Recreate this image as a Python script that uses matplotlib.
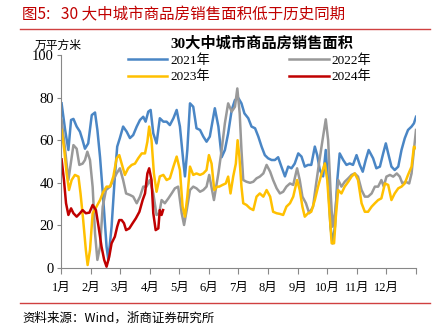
import matplotlib
matplotlib.use("Agg")
import matplotlib.pyplot as plt
from matplotlib.lines import Line2D

# ---- data (x in months since Jan 1, value in 万平方米) ----
x2021 = [0.02,0.14,0.25,0.34,0.42,0.53,0.64,0.73,0.81,0.92,1.04,1.15,1.23,1.32,1.43,1.54,1.6,1.71,1.82,1.9,
         1.99,2.1,2.22,2.33,2.44,2.56,2.67,2.78,2.86,2.95,3.03,3.12,3.23,3.34,3.46,3.57,3.68,3.8,3.91,4.02,
         4.13,4.19,4.27,4.36,4.47,4.58,4.7,4.81,4.92,5.03,5.2,5.32,5.43,5.54,5.65,5.77,5.88,6.0,6.1,6.2,
         6.33,6.44,6.56,6.67,6.78,6.89,7.0,7.12,7.23,7.34,7.45,7.57,7.68,7.79,7.9,8.02,8.13,8.24,8.35,8.46,
         8.58,8.66,8.75,8.86,8.95,9.03,9.11,9.18,9.26,9.34,9.42,9.54,9.65,9.76,9.87,9.99,10.1,10.2,10.3,10.4,
         10.55,10.66,10.78,10.89,10.98,11.06,11.17,11.28,11.4,11.51,11.62,11.73,11.85,11.93,12.0]
y2021 = [77.3,64.8,55.4,69.5,70,66.4,64,60,56,58.5,71.8,73,64.8,52,32,10,3.8,19.4,43,57,
         61,66.4,64,61,62.4,66.4,69.5,71,68.7,73.4,74.2,63.2,58.5,70.3,68.7,68.7,67.1,70.3,74.2,66.4,
         50.7,43,55.4,77.3,75.7,65.6,64.8,61.7,59.3,61.7,75,66.4,52,55.4,63.2,74.2,78.9,79.7,77.3,72.6,
         70.3,66.4,65.6,61.7,57,53,51.5,50.7,50.7,52,47.6,43,47.6,46.8,49,53.8,52.3,47.6,48.4,48.4,
         57,53,46,43,55.4,39.7,19.4,11.6,19.4,41.3,53.8,50.7,48.4,49.1,48.4,53,48.4,45.2,50.7,55.4,
         51.5,46.8,47.6,53.8,58.5,53.8,47.6,46,47.6,55.4,60.9,64.8,66.4,67.9,71]

x2022 = [0.02,0.14,0.25,0.33,0.42,0.53,0.62,0.73,0.81,0.89,0.98,1.07,1.15,1.23,1.32,1.41,1.52,1.66,1.77,1.88,
         1.99,2.1,2.2,2.33,2.44,2.56,2.67,2.78,2.89,3.0,3.12,3.23,3.32,3.4,3.51,3.63,3.74,3.85,3.96,4.08,
         4.16,4.25,4.36,4.47,4.58,4.7,4.81,4.92,5.01,5.17,5.32,5.43,5.54,5.65,5.77,5.88,5.96,6.04,6.1,6.16,
         6.27,6.39,6.5,6.61,6.72,6.84,6.95,7.07,7.17,7.29,7.4,7.51,7.62,7.74,7.85,7.98,8.07,8.16,8.28,8.39,
         8.52,8.61,8.72,8.84,8.95,9.03,9.11,9.18,9.26,9.37,9.48,9.59,9.71,9.82,9.93,10.04,10.16,10.27,10.38,10.5,
         10.61,10.72,10.83,10.91,11.0,11.12,11.23,11.35,11.45,11.54,11.65,11.77,11.85,11.93,12.0]
y2022 = [69.5,55.4,41.3,49,57.7,56,48.4,49,50.7,54.6,50.7,38,16.3,3.8,10,28.8,36.6,38.2,41.3,44.4,
         46.8,41.3,35,34.3,33.5,30.4,33.5,38.2,38.2,41.3,35,24.9,25.7,31.9,30.4,32.7,35,37.4,38.2,25.7,
         20.2,27.2,36.6,38.2,37.4,35.8,36.6,38.2,43.7,31.9,44.4,55.4,68,77.3,73.4,75.7,84.3,72.6,55.4,41.3,
         40.5,40,40.5,42.1,42.9,44.4,48.4,45.2,41.3,37.4,35,35.8,38.2,39.7,39,46.8,41.3,33.5,30.4,25.7,
         28.8,38.2,49,60,69.8,60,36.6,19.4,25.7,41.3,38.2,40.5,42.1,43.7,44.4,42.9,36.6,33.5,33.5,35,
         38.2,38.2,41.3,38.2,42.9,43.7,42.9,44.4,42.9,39.7,40.5,39.7,44.4,55.4,64.8]

x2023 = [0.02,0.11,0.19,0.27,0.36,0.47,0.59,0.66,0.75,0.84,0.9,0.98,1.07,1.2,1.32,1.43,1.54,1.66,1.77,1.88,
         1.97,2.05,2.16,2.27,2.39,2.5,2.61,2.73,2.84,2.92,2.98,3.06,3.14,3.23,3.34,3.46,3.57,3.68,3.8,3.91,
         4.02,4.11,4.19,4.27,4.36,4.47,4.58,4.7,4.81,4.92,5.0,5.09,5.18,5.28,5.35,5.46,5.57,5.65,5.73,5.82,
         5.91,5.97,6.03,6.1,6.16,6.27,6.39,6.5,6.61,6.72,6.84,6.95,7.07,7.17,7.29,7.4,7.51,7.62,7.74,7.85,
         7.98,8.07,8.16,8.24,8.35,8.46,8.58,8.69,8.81,8.92,9.0,9.07,9.15,9.23,9.29,9.37,9.48,9.59,9.71,9.82,
         9.93,10.04,10.16,10.27,10.38,10.5,10.61,10.72,10.83,10.95,11.06,11.17,11.28,11.4,11.51,11.62,11.73,11.85,11.93,12.0]
y2023 = [64.8,55.4,44.4,36.6,41.3,43.7,42.9,35,22.5,8.5,1.4,8.5,25.7,28.8,31.9,35.8,38.2,38.2,43,51.5,
         53,49,43.7,46.8,48.4,49,51.5,53.8,53.8,59.3,66.4,60,44.4,35.8,43,43.7,41.3,42.1,47.6,52.3,
         46,28.8,24.1,33.5,47.6,43.7,44.4,43.7,44.4,46,53,49,36.6,38.2,38.2,39,39.7,42.9,35,42.9,
         49,60,52.3,38.2,30.4,29.6,28,27.2,33.5,35,33.5,36.6,33.5,26.4,25.7,25.4,24.9,28.8,30.4,33.5,
         41.3,36.6,28.8,24.1,25.7,26.4,31.9,38.2,44.4,49.1,41.3,27.2,11.6,11.6,24.1,36.6,35,38.2,40.5,42.9,
         44.4,41.3,30.4,26.4,26.4,28.8,30.4,31.9,32.7,39.7,39,31.9,35,37.4,38.2,39.7,43.7,47.6,57,56.2]

x2024 = [0.02,0.1,0.17,0.25,0.34,0.42,0.53,0.64,0.73,0.84,0.96,1.07,1.18,1.27,1.37,1.46,1.54,1.63,1.71,1.82,
         1.9,1.97,2.05,2.13,2.2,2.31,2.42,2.53,2.65,2.76,2.84,2.92,2.98,3.06,3.12,3.2,3.29,3.34,3.4,3.45]
y2024 = [51,41.3,30.4,24.9,28,25.7,24.1,25.7,27.2,25.7,26,29.6,27.2,19.4,10,3.8,0.6,5.3,11.6,14.7,
         19.4,22.5,22.5,21,17.8,18.6,21,23.3,26.4,31.9,35,44.4,46.8,41.3,25.7,17.8,18.6,27.2,24.9,27.2]

month_labels = ["1月","2月","3月","4月","5月","6月","7月","8月","9月","10月","11月","12月"]
series_names = ["2021年","2022年","2023年","2024年"]
colors = ["#4a86c5", "#999999", "#ffc000", "#c00000"]

SERIF = ["Liberation Serif", "Noto Sans CJK SC"]
CJK = ["Noto Sans CJK SC", "Liberation Serif"]
plt.rcParams['font.family'] = SERIF

fig = plt.figure(figsize=(4.35, 3.32), dpi=100)
ax = fig.add_axes([61/435, 1-268/332, 355/435, 213/332])

lw = 1.8
h21, = ax.plot(x2021, y2021, color=colors[0], lw=lw, label=series_names[0])
h22, = ax.plot(x2022, y2022, color=colors[1], lw=lw, label=series_names[1])
h23, = ax.plot(x2023, y2023, color=colors[2], lw=lw, label=series_names[2])
h24, = ax.plot(x2024, y2024, color=colors[3], lw=lw, label=series_names[3])

ax.set_xlim(0, 12)
ax.set_ylim(0, 100)
ax.set_yticks([0, 20, 40, 60, 80, 100])
ax.set_xticks(range(13))
ax.set_xticklabels(month_labels + [""], family=SERIF, fontsize=9)
ax.tick_params(axis='y', labelsize=10.5, length=3, color='#888888', direction='out', pad=2)
ax.tick_params(axis='x', length=4, color='#888888', direction='out', pad=6)
for s in ['top', 'right']:
    ax.spines[s].set_visible(False)
for s in ['left', 'bottom']:
    ax.spines[s].set_color('#888888')
    ax.spines[s].set_linewidth(0.8)

leg = ax.legend(handles=[h21, h23, h22, h24], ncol=2, frameon=False,
                loc='upper left', bbox_to_anchor=(0.155, 1.06),
                prop={'family': SERIF, 'size': 9.5}, handlelength=3.0,
                handletextpad=0.2, columnspacing=6.0, labelspacing=0.3)

fig.text(22/435, 1-15/332, "图5:   30 大中城市商品房销售面积低于历史同期", color="#c00000",
         fontsize=11.2, family=CJK, va='center', ha='left')
fig.add_artist(Line2D([20/435, 430/435], [1-29/332, 1-29/332], color="#d04040", lw=1.0))
fig.text(35/435, 1-45/332, "万平方米", fontsize=8.5, family=CJK, va='center', ha='left')
fig.text(262/435, 1-44/332, "30大中城市商品房销售面积", fontsize=11, fontweight='bold',
         family=SERIF, va='center', ha='center')
fig.add_artist(Line2D([20/435, 430/435], [1-303/332, 1-303/332], color="#d04040", lw=1.0))
fig.text(22/435, 1-318/332, "资料来源：Wind，浙商证券研究所", fontsize=9, family=CJK,
         va='center', ha='left')

fig.savefig("out.png", dpi=100)
